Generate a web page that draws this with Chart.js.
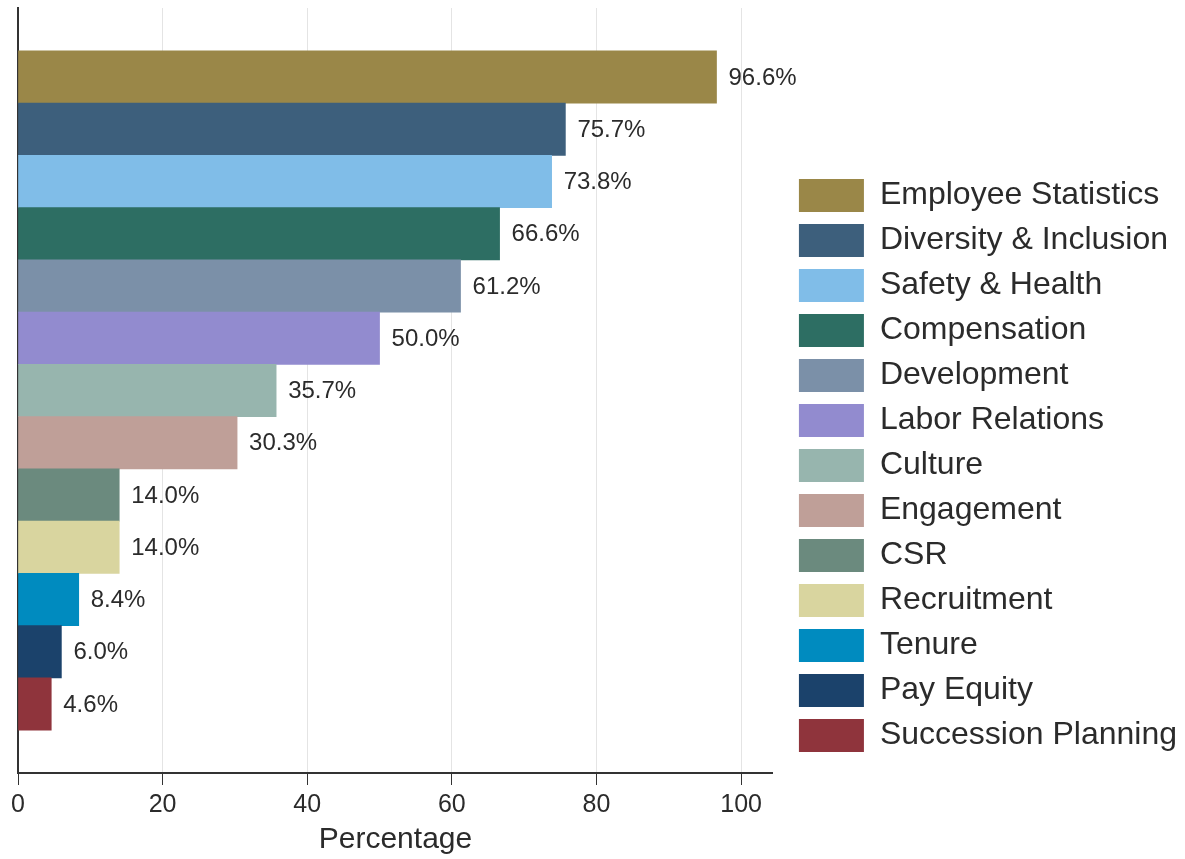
<!DOCTYPE html>
<html>
<head>
<meta charset="utf-8">
<title>Topic coverage</title>
<script src="https://cdn.jsdelivr.net/npm/chart.js@4.4.1/dist/chart.umd.min.js"></script>
<style>
  html, body { margin: 0; padding: 0; background: #fff; }
  #wrap { width: 1185px; height: 859px; position: relative; }
</style>
</head>
<body>
<div id="wrap"><canvas id="chart"></canvas></div>
<script>
// data
const categories = [
  "Employee Statistics", "Diversity & Inclusion", "Safety & Health", "Compensation",
  "Development", "Labor Relations", "Culture", "Engagement", "CSR",
  "Recruitment", "Tenure", "Pay Equity", "Succession Planning"
];
const percentages = [96.6, 75.7, 73.8, 66.6, 61.2, 50.0, 35.7, 30.3, 14.0, 14.0, 8.4, 6.0, 4.6];
const barColors = [
  "#9a8748", "#3d5f7c", "#80bde8", "#2d6e63", "#7b90a8", "#928bcf", "#97b5ae",
  "#bf9f98", "#6b8a7e", "#d9d59f", "#008bbf", "#1b426b", "#8f343c"
];
const xTicks = [0, 20, 40, 60, 80, 100];

const FONT = '"Liberation Sans", Arial, sans-serif';
const TEXT = "#2b2b2b";

// value labels at the end of each bar
const valueLabels = {
  id: "valueLabels",
  afterDatasetsDraw(chart) {
    const ctx = chart.ctx;
    const meta = chart.getDatasetMeta(0);
    ctx.save();
    ctx.font = "24px " + FONT;
    ctx.fillStyle = TEXT;
    ctx.textAlign = "left";
    ctx.textBaseline = "middle";
    meta.data.forEach((bar, i) => {
      ctx.fillText(percentages[i].toFixed(1) + "%", bar.x + 12, bar.y + 1);
    });
    ctx.restore();
  }
};

// a bit more room between plot and legend, items nudged right
const legendGap = {
  id: "legendGap",
  beforeInit(chart) {
    const fit = chart.legend.fit;
    chart.legend.fit = function () {
      fit.call(this);
      this.width += 12;
    };
  },
  afterLayout(chart) {
    chart.legend.left += 14;
    chart.legend.right += 14;
  }
};

const ctx = document.getElementById("chart").getContext("2d");
new Chart(ctx, {
  type: "bar",
  data: {
    datasets: [{
      label: "Percentage",
      data: percentages.map((v, i) => ({ x: v, y: i })),
      backgroundColor: barColors,
      borderWidth: 0,
      barPercentage: 1,
      categoryPercentage: 1
    }]
  },
  options: {
    indexAxis: "y",
    responsive: true,
    maintainAspectRatio: false,
    animation: false,
    layout: { padding: { left: 18, top: 8, right: 0, bottom: 0 } },
    scales: {
      x: {
        type: "linear",
        min: 0,
        max: 104.4,
        afterBuildTicks: (axis) => { axis.ticks = xTicks.map((v) => ({ value: v })); },
        ticks: {
          font: { size: 25, family: FONT, lineHeight: 1.0 },
          color: TEXT,
          padding: 8
        },
        grid: {
          color: "#e4e4e4",
          lineWidth: 1,
          tickColor: "#333",
          tickLength: 12
        },
        border: { color: "#333", width: 2 },
        title: {
          display: true,
          text: "Percentage",
          font: { size: 30, family: FONT, lineHeight: 1.1 },
          color: TEXT,
          padding: { top: -3, bottom: 3 }
        }
      },
      y: {
        type: "linear",
        offset: false,
        reverse: true,
        min: -1.32,
        max: 13.32,
        ticks: { display: false },
        grid: { display: false, drawTicks: false },
        border: { color: "#333", width: 2 }
      }
    },
    plugins: {
      legend: {
        position: "right",
        maxWidth: 480,
        title: { display: true, text: " ", font: { size: 10 }, padding: 26 },
        labels: {
          boxWidth: 65,
          boxHeight: 33,
          padding: 12,
          color: TEXT,
          font: { size: 32, family: FONT },
          generateLabels: () => categories.map((c, i) => ({
            text: c,
            fillStyle: barColors[i],
            strokeStyle: barColors[i],
            fontColor: TEXT,
            lineWidth: 0,
            hidden: false,
            index: i,
            datasetIndex: 0
          }))
        }
      },
      tooltip: { enabled: false }
    }
  },
  plugins: [valueLabels, legendGap]
});
</script>
</body>
</html>
